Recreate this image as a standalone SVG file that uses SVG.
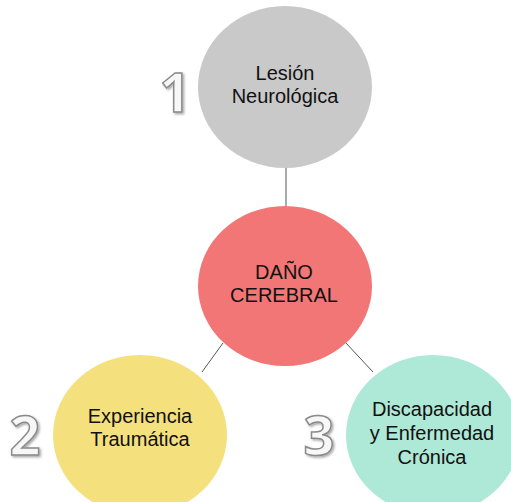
<svg xmlns="http://www.w3.org/2000/svg" width="511" height="502" viewBox="0 0 511 502">
<defs>
<style>
.lbl{font-family:"Liberation Sans",Arial,sans-serif;font-size:20px;fill:#111;text-anchor:middle}
.num{font-family:"Open Sans","Liberation Sans",Arial,sans-serif;font-weight:bold;font-size:54px;fill:#f7f7f7;stroke:#8a8a8a;stroke-width:1.5;text-anchor:middle;filter:url(#sh)}
.con{stroke:#555;stroke-width:1;fill:none}
</style>
<filter id="sh" x="-30%" y="-30%" width="160%" height="160%">
<feDropShadow dx="1.5" dy="1.5" stdDeviation="1" flood-color="#000" flood-opacity="0.35"/>
</filter>
</defs>
<rect width="511" height="502" fill="#fff"/>
<g id="connectors">
<line class="con" x1="286" y1="167" x2="286" y2="207"/>
<line class="con" x1="223" y1="343" x2="202" y2="372"/>
<line class="con" x1="345" y1="342" x2="373" y2="372"/>
</g>
<g id="node-lesion">
<ellipse cx="285" cy="87" rx="87" ry="81" fill="#c9c9c9"/>
<text class="lbl" x="285" y="80">Lesión</text>
<text class="lbl" x="285" y="103">Neurológica</text>
</g>
<g id="node-dano">
<ellipse cx="285" cy="286" rx="87" ry="80" fill="#f27676"/>
<text class="lbl" x="284" y="279">DAÑO</text>
<text class="lbl" x="284" y="302">CEREBRAL</text>
</g>
<g id="node-experiencia">
<ellipse cx="140" cy="435" rx="87" ry="80" fill="#f5e07e"/>
<text class="lbl" x="140" y="423">Experiencia</text>
<text class="lbl" x="140" y="446">Traumática</text>
</g>
<g id="node-discapacidad">
<ellipse cx="433" cy="435" rx="87" ry="80" fill="#aee8d6"/>
<text class="lbl" x="432" y="416">Discapacidad</text>
<text class="lbl" x="432" y="440">y Enfermedad</text>
<text class="lbl" x="432" y="464">Crónica</text>
</g>
<g id="numbers">
<text class="num" x="175" y="112">1</text>
<text class="num" x="25" y="455">2</text>
<text class="num" x="319" y="455">3</text>
</g>
</svg>
